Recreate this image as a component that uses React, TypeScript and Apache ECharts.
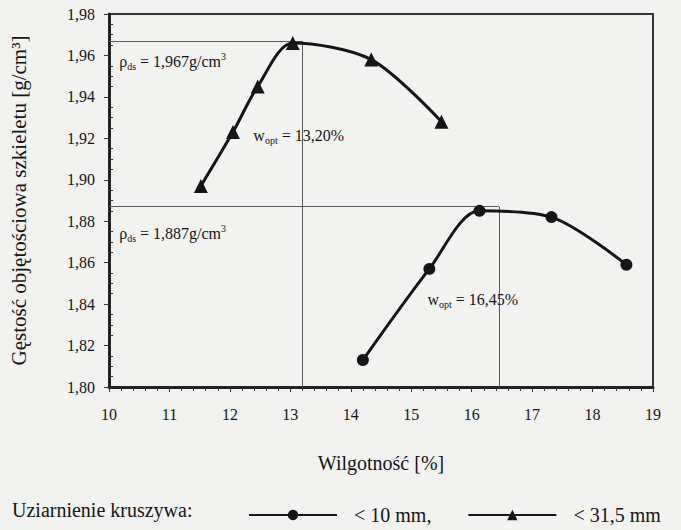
import React, { useEffect, useRef } from "react";
import * as echarts from "echarts";

const fineX = [14.2, 15.3, 16.13, 17.32, 18.56];
const fineY = [1.813, 1.857, 1.885, 1.882, 1.859];
const coarseX = [11.52, 12.05, 12.46, 13.04, 14.34, 15.5];
const coarseY = [1.897, 1.923, 1.945, 1.966, 1.958, 1.928];

const optCoarse = { w: 13.2, rho: 1.967 };
const optFine = { w: 16.45, rho: 1.887 };

const seriesNames = ["< 10 mm", "< 31,5 mm"];
const legendTitle = "Uziarnienie kruszywa:";
const xTitle = "Wilgotność [%]";
const yTitle = "Gęstość objętościowa szkieletu [g/cm³]";

const X_MIN = 10, X_MAX = 19, Y_MIN = 1.8, Y_MAX = 1.98;

const FONT = "Liberation Serif";
const INK = "#151515";
const REF = "#5a5a5a";

const rich = {
  r: { fontFamily: FONT, fontSize: 16, color: INK, lineHeight: 20 },
  s: { fontFamily: FONT, fontSize: 10, color: INK, lineHeight: 11, verticalAlign: "bottom" },
  p: { fontFamily: FONT, fontSize: 10, color: INK, lineHeight: 11, verticalAlign: "top" },
};

function note(coord: number[], text: string) {
  return {
    coord,
    symbol: "circle",
    symbolSize: 1,
    itemStyle: { color: "rgba(0,0,0,0)" },
    label: { show: true, position: "right", distance: 0, formatter: text, rich },
  };
}

export default function App() {
  const ref = useRef<HTMLDivElement>(null);
  useEffect(() => {
    const chart = echarts.init(ref.current!, null, { renderer: "svg" });
    const fmtComma = (v: number, d: number) => v.toFixed(d).replace(".", ",");
    chart.setOption({
      animation: false,
      backgroundColor: "#f2f2f0",
      textStyle: { fontFamily: FONT },
      grid: {
        left: 109,
        right: 28,
        top: 14,
        bottom: 143,
        show: true,
        borderColor: "#333",
        borderWidth: 2,
        backgroundColor: "transparent",
      },
      legend: {
        left: 243,
        top: 500,
        itemWidth: 88,
        itemHeight: 13,
        itemGap: 36,
        data: seriesNames,
        formatter: (n: string) => (n === seriesNames[0] ? n + "," : n),
        textStyle: { fontFamily: FONT, fontSize: 20, color: INK, padding: [0, 0, 0, 12] },
      },
      xAxis: {
        type: "value",
        min: X_MIN,
        max: X_MAX,
        interval: 1,
        name: xTitle,
        nameLocation: "middle",
        nameGap: 66,
        nameTextStyle: { fontFamily: FONT, fontSize: 20, color: INK },
        axisLine: { show: true, lineStyle: { color: "#222", width: 3 } },
        axisTick: { show: true, length: 5, lineStyle: { color: "#333", width: 1 } },
        minorTick: { show: true, splitNumber: 5, length: 4, lineStyle: { color: "#333", width: 1 } },
        axisLabel: { fontFamily: FONT, fontSize: 16, color: INK, margin: 19 },
        splitLine: { show: false },
      },
      yAxis: [
        {
          type: "value",
          min: Y_MIN,
          max: Y_MAX,
          interval: 0.02,
          name: yTitle,
          nameLocation: "middle",
          nameGap: 80,
          nameRotate: 90,
          nameTextStyle: { fontFamily: FONT, fontSize: 21, color: INK },
          axisLine: { show: true, lineStyle: { color: "#222", width: 3 } },
          axisTick: { show: true, length: 5, lineStyle: { color: "#333", width: 1 } },
          axisLabel: {
            fontFamily: FONT,
            fontSize: 16,
            color: INK,
            margin: 14,
            formatter: (v: number) => fmtComma(v, 2),
          },
          splitLine: { show: false },
        },
        {
          type: "value",
          min: Y_MIN,
          max: Y_MAX,
          interval: 0.02,
          position: "left",
          axisLine: { show: false },
          axisTick: { show: false, inside: true },
          minorTick: { show: true, splitNumber: 4, length: 4, lineStyle: { color: "#333", width: 1 } },
          axisLabel: { show: false },
          splitLine: { show: false },
        },
      ],
      series: [
        {
          name: seriesNames[0],
          type: "line",
          data: fineX.map((x, i) => [x, fineY[i]]),
          smooth: 0.3,
          symbol: "circle",
          symbolSize: 12,
          lineStyle: { color: INK, width: 3 },
          itemStyle: { color: INK },
          z: 5,
          markLine: {
            silent: true,
            symbol: "none",
            label: { show: false },
            lineStyle: { color: REF, width: 1, type: "solid" },
            data: [
              [{ coord: [X_MIN, optFine.rho] }, { coord: [optFine.w, optFine.rho] }],
              [{ coord: [optFine.w, Y_MIN] }, { coord: [optFine.w, optFine.rho] }],
            ],
          },
          markPoint: {
            silent: true,
            data: [
              note([10.16, 1.874], "{r|ρ}{s|ds}{r| = 1,887g/cm}{p|3}"),
              note([15.26, 1.842], "{r|w}{s|opt}{r| = 16,45%}"),
            ],
          },
        },
        {
          name: seriesNames[1],
          type: "line",
          data: coarseX.map((x, i) => [x, coarseY[i]]),
          smooth: 0.3,
          symbol: "triangle",
          symbolSize: 14,
          lineStyle: { color: INK, width: 3 },
          itemStyle: { color: INK },
          z: 5,
          markLine: {
            silent: true,
            symbol: "none",
            label: { show: false },
            lineStyle: { color: REF, width: 1, type: "solid" },
            data: [
              [{ coord: [X_MIN, optCoarse.rho] }, { coord: [optCoarse.w, optCoarse.rho] }],
              [{ coord: [optCoarse.w, Y_MIN] }, { coord: [optCoarse.w, optCoarse.rho] }],
            ],
          },
          markPoint: {
            silent: true,
            data: [
              note([10.16, 1.957], "{r|ρ}{s|ds}{r| = 1,967g/cm}{p|3}"),
              note([12.38, 1.9216], "{r|w}{s|opt}{r| = 13,20%}"),
            ],
          },
        },
      ],
      graphic: [
        {
          type: "text",
          left: 12,
          top: 500,
          style: { text: legendTitle, fontFamily: FONT, fontSize: 20, fill: INK },
        },
      ],
    });
    return () => chart.dispose();
  }, []);
  return (
    <div style={{ position: "absolute", left: 0, top: 0, width: 681, height: 530 }}>
      <style>{`svg text, svg tspan { font-family: "Liberation Serif", "Times New Roman", serif !important; }`}</style>
      <div ref={ref} style={{ width: 681, height: 530 }} />
    </div>
  );
}
